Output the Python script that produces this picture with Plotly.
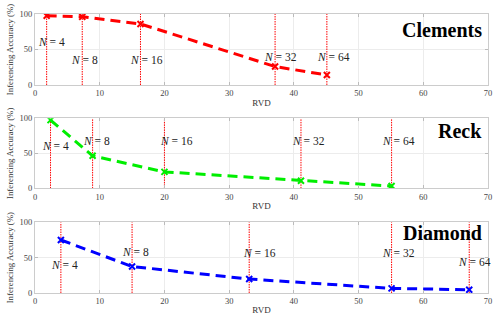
import plotly.graph_objects as go
from plotly.subplots import make_subplots

# ---- data ----
n_labels = ["4", "8", "16", "32", "64"]

clements_rvd = [1.8, 7.3, 16.3, 37.1, 45.1]
clements_acc = [97.5, 96, 86, 26, 14]

reck_rvd = [2.4, 8.9, 20.0, 41.1, 55.1]
reck_acc = [97.5, 46.5, 23.5, 10.8, 3.3]

diamond_rvd = [4.0, 15.0, 33.1, 55.1, 67.1]
diamond_acc = [75, 37.5, 19.7, 6.5, 4.6]

panel_names = ["Clements", "Reck", "Diamond"]
x_ticks = [0, 10, 20, 30, 40, 50, 60, 70]
y_ticks = [0, 50, 100]

# ---- label placement (layout only) ----
label_pos = [
    [(2.55, 60), (7.7, 35), (17.2, 35), (38.0, 40), (46.2, 40)],
    [(3.2, 61), (9.5, 68), (21.8, 68), (42.2, 67), (56.1, 67)],
    [(4.5, 39), (15.5, 58.5), (34.7, 56), (56.1, 56), (67.9, 43.6)],
]
title_y = [0.78, 0.82, 0.85]

series = [
    (clements_rvd, clements_acc, "#ff0000"),
    (reck_rvd, reck_acc, "#00ee00"),
    (diamond_rvd, diamond_acc, "#0000ff"),
]

fig = make_subplots(rows=3, cols=1)
domains = [[0.7455, 1.0], [0.375, 0.626], [0.0, 0.2534]]

serif = "Liberation Serif"

for i, (xs, ys, col) in enumerate(series):
    r = i + 1
    # vertical dotted markers
    for xv in xs:
        fig.add_trace(go.Scatter(x=[xv, xv], y=[0, 100], mode="lines",
                                 line=dict(color="#ff0000", width=1, dash="1.5px,1px"),
                                 showlegend=False, hoverinfo="skip"), row=r, col=1)
    fig.add_trace(go.Scatter(x=xs, y=ys, mode="lines+markers",
                             line=dict(color=col, width=3, dash="10px,6px"),
                             marker=dict(symbol="x-thin", size=6,
                                         line=dict(color=col, width=2)),
                             showlegend=False), row=r, col=1)
    for j, lab in enumerate(n_labels):
        lx, ly = label_pos[i][j]
        fig.add_annotation(x=lx, y=ly, xref=f"x{r}" if r > 1 else "x",
                           yref=f"y{r}" if r > 1 else "y",
                           text=f"<i>N</i> = {lab}", showarrow=False,
                           font=dict(family=serif, size=11.5, color="#222"))
    fig.add_annotation(x=0.992, y=title_y[i], xref=f"x{r} domain" if r > 1 else "x domain",
                       yref=f"y{r} domain" if r > 1 else "y domain",
                       text=f"<b>{panel_names[i]}</b>", showarrow=False,
                       xanchor="right", yanchor="middle",
                       font=dict(family=serif, size=20, color="black"))
    fig.update_xaxes(row=r, col=1, range=[0, 70], tickvals=x_ticks,
                     showline=True, linecolor="#cccccc", mirror="ticks",
                     ticks="inside", ticklen=3, tickcolor="#bbbbbb",
                     showgrid=True, gridcolor="#ececec", zeroline=False,
                     tickfont=dict(family=serif, size=8.5, color="#444"),
                     title=dict(text="RVD", standoff=2,
                                font=dict(family=serif, size=9, color="#333")),
                     automargin=False)
    fig.update_yaxes(row=r, col=1, range=[0, 100], tickvals=y_ticks,
                     domain=domains[i],
                     showline=True, linecolor="#cccccc", mirror="ticks",
                     ticks="inside", ticklen=3, tickcolor="#bbbbbb",
                     showgrid=True, gridcolor="#ececec", zeroline=False,
                     tickfont=dict(family=serif, size=8.5, color="#444"),
                     title=dict(text="Inferencing Accuracy (%)", standoff=4,
                                font=dict(family=serif, size=8.8, color="#333")),
                     automargin=False)

fig.update_layout(width=498, height=315, margin=dict(l=35, r=10, t=14, b=22),
                  plot_bgcolor="white", paper_bgcolor="white", showlegend=False)

# remove the page's default body margin so the figure fills the window
fig.write_html("out.html", config={"displayModeBar": False},
               post_script="document.body.style.margin='0';")
